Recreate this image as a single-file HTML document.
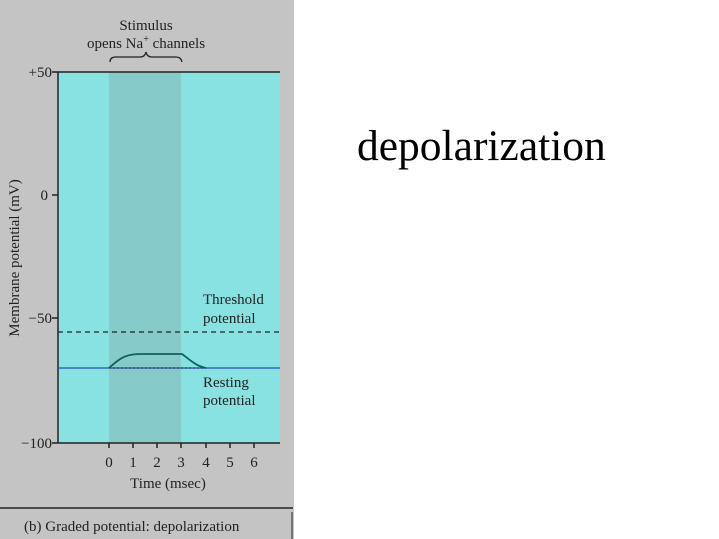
<!DOCTYPE html>
<html><head><style>
body{margin:0;width:719px;height:539px;background:#fff;overflow:hidden;position:relative;font-family:"Liberation Serif",serif}
</style></head><body>
<svg width="719" height="539" style="position:absolute;left:0;top:0" font-family="Liberation Serif, serif">
<rect x="0" y="0" width="294" height="539" fill="#c4c4c4"/>
<rect x="58" y="72" width="222" height="371" fill="#88e2e2"/>
<rect x="109" y="72" width="72" height="371" fill="#86caca"/>
<line x1="58" y1="72" x2="280" y2="72" stroke="#222" stroke-width="1.5"/>
<line x1="58" y1="72" x2="58" y2="443" stroke="#222" stroke-width="1.5"/>
<line x1="52" y1="443" x2="280" y2="443" stroke="#222" stroke-width="1.5"/>
<g stroke="#222" stroke-width="1.5">
<line x1="52" y1="72" x2="58" y2="72"/><line x1="52" y1="195" x2="58" y2="195"/><line x1="52" y1="318" x2="58" y2="318"/>
<line x1="109" y1="443" x2="109" y2="448"/><line x1="133" y1="443" x2="133" y2="448"/><line x1="157" y1="443" x2="157" y2="448"/><line x1="181" y1="443" x2="181" y2="448"/><line x1="206" y1="443" x2="206" y2="448"/><line x1="230" y1="443" x2="230" y2="448"/><line x1="254" y1="443" x2="254" y2="448"/>
</g>
<line x1="58" y1="332" x2="280" y2="332" stroke="#222" stroke-width="1.3" stroke-dasharray="5,4"/>
<line x1="58" y1="368" x2="280" y2="368" stroke="#2050c0" stroke-width="1.3"/>
<line x1="109" y1="368" x2="206" y2="368" stroke="#222" stroke-width="1" stroke-dasharray="2,2"/>
<path d="M109,368 C118,360 124,354 140,354 L182,354 C190,360 196,366 206,368" fill="none" stroke="#106060" stroke-width="1.8"/>
<path d="M110,62 Q110,57 116,57 L140,57 Q145,57 146,52 Q147,57 152,57 L176,57 Q181,57 182,62" fill="none" stroke="#222" stroke-width="1.3"/>
<g font-size="15" fill="#222">
<text x="146" y="30" text-anchor="middle">Stimulus</text>
<text x="146" y="48" text-anchor="middle">opens Na<tspan font-size="10" dy="-6">+</tspan><tspan dy="6"> channels</tspan></text>
<g text-anchor="end"><text x="52" y="77">+50</text><text x="48" y="200">0</text><text x="52" y="323">−50</text><text x="52" y="448">−100</text></g>
<g text-anchor="middle"><text x="109" y="467">0</text><text x="133" y="467">1</text><text x="157" y="467">2</text><text x="181" y="467">3</text><text x="206" y="467">4</text><text x="230" y="467">5</text><text x="254" y="467">6</text></g>
<text x="168" y="488" text-anchor="middle">Time (msec)</text>
<text x="203" y="304">Threshold</text><text x="203" y="323">potential</text>
<text x="203" y="387">Resting</text><text x="203" y="405">potential</text>
<text transform="translate(19,258) rotate(-90)" text-anchor="middle">Membrane potential (mV)</text>
<text x="24" y="531">(b) Graded potential: depolarization</text>
</g>
<line x1="0" y1="508" x2="293" y2="508" stroke="#222" stroke-width="1.5"/>
<line x1="292" y1="512" x2="292" y2="539" stroke="#222" stroke-width="1"/>
<text x="357" y="160" font-size="43.5" fill="#000">depolarization</text>
</svg>
</body></html>
